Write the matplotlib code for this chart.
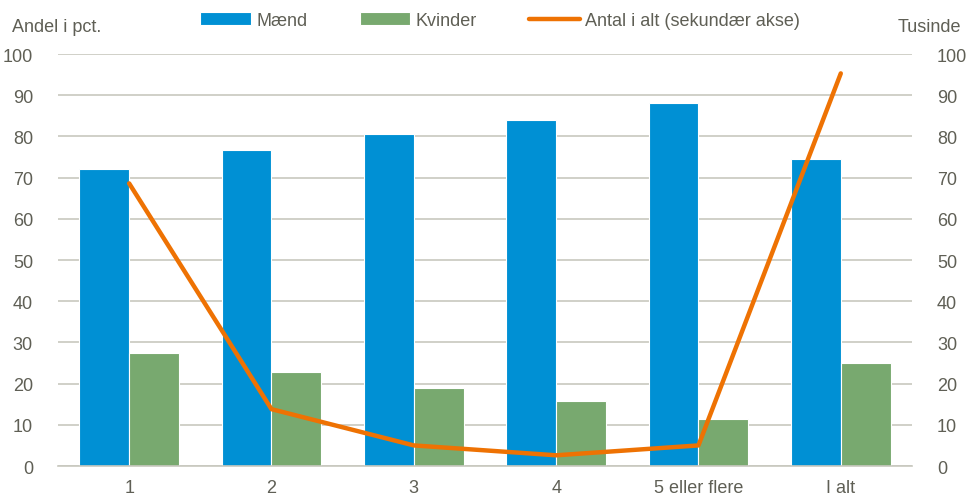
import numpy as np
import matplotlib
matplotlib.use("Agg")
import matplotlib.pyplot as plt

plt.rcParams['font.family'] = ['Liberation Sans Narrow', 'Liberation Sans', 'DejaVu Sans']

categories = ["1", "2", "3", "4", "5 eller flere", "I alt"]
maend = [72.2, 76.8, 80.6, 83.9, 88.2, 74.4]
kvinder = [27.5, 22.8, 19.0, 15.7, 11.3, 25.1]
antal = [68.6, 13.8, 5.0, 2.6, 5.0, 95.3]
yticks = list(range(0, 101, 10))

c_blue = "#0090d4"
c_green = "#78a96f"
c_orange = "#ee7203"
c_text = "#5f5f55"
c_grid = "#c8c8bf"
fs = 13

fig = plt.figure(figsize=(9.71, 5.02), dpi=100)
ax = fig.add_axes([0.0597, 0.0697, 0.8795, 0.8207])
ax2 = ax.twinx()

x = np.arange(len(categories))
w = 0.35
b1 = ax.bar(x - w / 2, maend, w, color=c_blue, edgecolor="white", linewidth=0.8,
            label="Mænd", zorder=2)
b2 = ax.bar(x + w / 2, kvinder, w, color=c_green, edgecolor="white", linewidth=0.8,
            label="Kvinder", zorder=2)
ln, = ax2.plot(x, antal, color=c_orange, linewidth=3.2, solid_capstyle="round",
               label="Antal i alt (sekundær akse)", zorder=3)

ax.set_xlim(-0.5, len(categories) - 0.5)
for a in (ax, ax2):
    a.set_ylim(0, 100)
    a.set_yticks(yticks)
    for s in a.spines.values():
        s.set_visible(False)
ax.spines["bottom"].set_visible(True)
ax.spines["bottom"].set_color(c_grid)
ax.spines["bottom"].set_linewidth(1.2)

ax.yaxis.grid(True, color=c_grid, linewidth=1.2, zorder=0)
ax.set_axisbelow(True)

ax.set_xticks(x)
ax.set_xticklabels(categories)
ax.tick_params(axis="x", length=0, pad=9, labelsize=fs, labelcolor=c_text)
ax.tick_params(axis="y", length=0, pad=18, labelsize=fs, labelcolor=c_text)
ax2.tick_params(axis="y", length=0, pad=18, labelsize=fs, labelcolor=c_text)

fig.text(0.012, 0.945, "Andel i pct.", fontsize=fs, color=c_text, ha="left", va="center")
fig.text(0.99, 0.945, "Tusinde", fontsize=fs, color=c_text, ha="right", va="center")

leg = fig.legend(handles=[b1, b2, ln], loc="center", bbox_to_anchor=(0.515, 0.957),
                 ncol=3, frameon=False, fontsize=fs, handlelength=2.8,
                 handleheight=0.7, handletextpad=0.3, columnspacing=2.9)
for t in leg.get_texts():
    t.set_color(c_text)

fig.savefig("out.png", dpi=100)
